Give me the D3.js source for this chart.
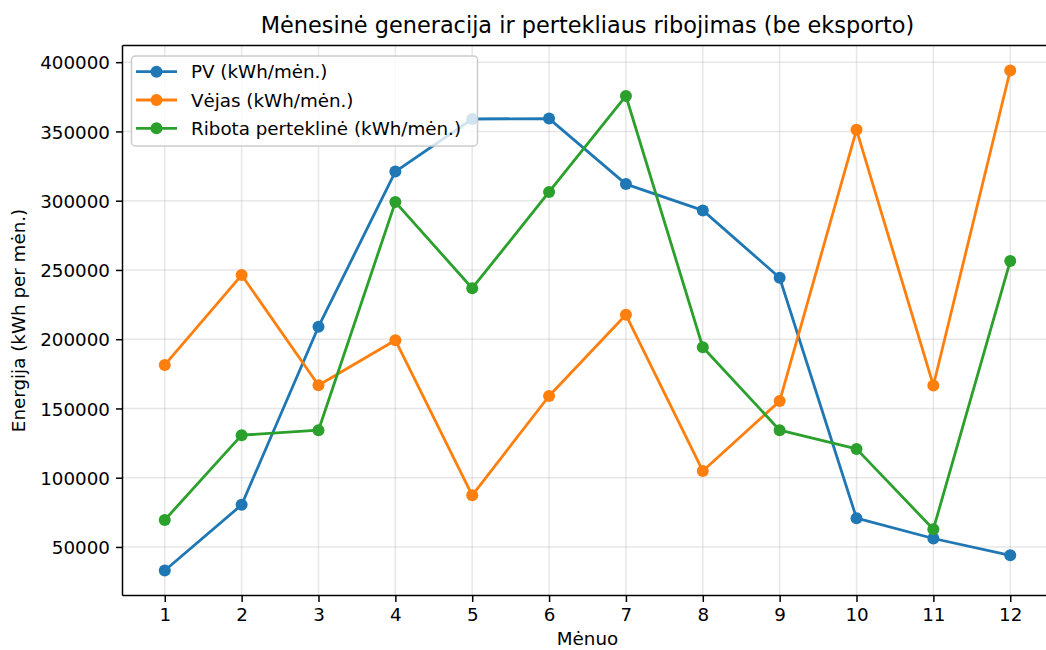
<!DOCTYPE html>
<html lang="lt">
<head>
    <meta charset="UTF-8">
    <title>Mėnesinė generacija</title>
    <style>
        body { margin: 0; background: #fff; }
        #graphArea text { font-family: "DejaVu Sans", sans-serif; fill: #000; }
    </style>
</head>
<body>
    <div id="graphArea"></div>
    <script src="https://d3js.org/d3.v7.min.js"></script>
    <script>
        const months = [1, 2, 3, 4, 5, 6, 7, 8, 9, 10, 11, 12];
        const pvValues = [33000, 80400, 209000, 321000, 359000, 359300, 312000, 293000, 244400, 70800, 56100, 44000];
        const windValues = [181400, 246300, 166800, 199300, 87300, 159000, 217600, 104900, 155300, 351200, 166600, 394000];
        const curtailedValues = [69500, 130700, 134300, 299000, 236800, 306300, 375600, 194200, 134300, 120800, 62800, 256400];
        const yTicks = [50000, 100000, 150000, 200000, 250000, 300000, 350000, 400000];
        const seriesNames = ["PV (kWh/mėn.)", "Vėjas (kWh/mėn.)", "Ribota perteklinė (kWh/mėn.)"];
        const seriesColors = ["#1f77b4", "#ff7f0e", "#2ca02c"];

        const drawGraph = () => {
            const W = 1046, H = 650;
            const margin = { top: 45.5, left: 122.5, right: 1052.5, bottom: 595.5 };

            const svg = d3.select("#graphArea")
            .append("svg")
            .attr("width", W)
            .attr("height", H);

            const x = d3.scaleLinear()
            .domain([0.45, 12.55])
            .range([margin.left, margin.right]);

            const all = pvValues.concat(windValues, curtailedValues);
            const lo = d3.min(all), hi = d3.max(all), pad = (hi - lo) * 0.05;
            const y = d3.scaleLinear()
            .domain([lo - pad, hi + pad])
            .range([margin.bottom, margin.top]);

            // grid
            const grid = svg.append("g")
            .attr("stroke", "#b0b0b0")
            .attr("stroke-opacity", 0.3)
            .attr("stroke-width", 1.5);
            grid.selectAll(".gx").data(months).join("line")
            .attr("x1", d => x(d)).attr("x2", d => x(d))
            .attr("y1", margin.top).attr("y2", margin.bottom);
            grid.selectAll(".gy").data(yTicks).join("line")
            .attr("y1", d => y(d)).attr("y2", d => y(d))
            .attr("x1", margin.left).attr("x2", margin.right);

            // axes
            const xAxis = svg.append("g")
            .attr("transform", `translate(0, ${margin.bottom})`)
            .call(d3.axisBottom(x).tickValues(months).tickFormat(d3.format("d")).tickSize(6.5).tickPadding(6));
            const yAxis = svg.append("g")
            .attr("transform", `translate(${margin.left}, 0)`)
            .call(d3.axisLeft(y).tickValues(yTicks).tickFormat(d3.format("d")).tickSize(6.5).tickPadding(6));
            [xAxis, yAxis].forEach(a => {
                a.select(".domain").remove();
                a.selectAll(".tick line").attr("stroke", "#000").attr("stroke-width", 1.5);
                a.selectAll(".tick text").style("font-size", "18.3px");
            });
            yAxis.selectAll(".tick text").attr("dy", "0.36em");

            // spines (left, bottom, top; right one falls outside the picture)
            const spines = svg.append("g").attr("stroke", "#000").attr("stroke-width", 1.5);
            spines.append("line").attr("x1", margin.left).attr("x2", margin.left).attr("y1", margin.top).attr("y2", margin.bottom);
            spines.append("line").attr("x1", margin.left).attr("x2", margin.right).attr("y1", margin.bottom).attr("y2", margin.bottom);
            spines.append("line").attr("x1", margin.left).attr("x2", margin.right).attr("y1", margin.top).attr("y2", margin.top);

            // series
            const series = [pvValues, windValues, curtailedValues];
            const line = d3.line()
            .x((d, i) => x(months[i]))
            .y(d => y(d));

            series.forEach((vals, k) => {
                svg.append("path")
                .datum(vals)
                .attr("fill", "none")
                .attr("stroke", seriesColors[k])
                .attr("stroke-width", 2.8)
                .attr("stroke-linejoin", "round")
                .attr("d", line);

                svg.append("g")
                .selectAll("circle")
                .data(vals)
                .join("circle")
                .attr("cx", (d, i) => x(months[i]))
                .attr("cy", d => y(d))
                .attr("r", 6)
                .attr("fill", seriesColors[k]);
            });

            // legend
            const legend = svg.append("g");
            legend.append("rect")
            .attr("x", 131.5)
            .attr("y", 56)
            .attr("width", 346)
            .attr("height", 90)
            .attr("rx", 4)
            .attr("fill", "#fff")
            .attr("fill-opacity", 0.8)
            .attr("stroke", "#cccccc")
            .attr("stroke-width", 1.5);

            seriesNames.forEach((name, k) => {
                const ly = 71.7 + k * 28.3;
                legend.append("line")
                .attr("x1", 136).attr("x2", 177)
                .attr("y1", ly).attr("y2", ly)
                .attr("stroke", seriesColors[k])
                .attr("stroke-width", 2.8);
                legend.append("circle")
                .attr("cx", 156.5).attr("cy", ly)
                .attr("r", 6)
                .attr("fill", seriesColors[k]);
                legend.append("text")
                .attr("x", 191)
                .attr("y", ly)
                .attr("dy", "0.36em")
                .style("font-size", "18.3px")
                .text(name);
            });

            // titles
            svg.append("text")
            .attr("x", (margin.left + margin.right) / 2)
            .attr("y", 33)
            .attr("text-anchor", "middle")
            .style("font-size", "22.4px")
            .text("Mėnesinė generacija ir pertekliaus ribojimas (be eksporto)");

            svg.append("text")
            .attr("x", (margin.left + margin.right) / 2)
            .attr("y", 645)
            .attr("text-anchor", "middle")
            .style("font-size", "18.3px")
            .text("Mėnuo");

            svg.append("text")
            .attr("transform", `translate(25, ${(margin.top + margin.bottom) / 2}) rotate(-90)`)
            .attr("text-anchor", "middle")
            .style("font-size", "18.3px")
            .text("Energija (kWh per mėn.)");
        };

        drawGraph();
    </script>
</body>
</html>
